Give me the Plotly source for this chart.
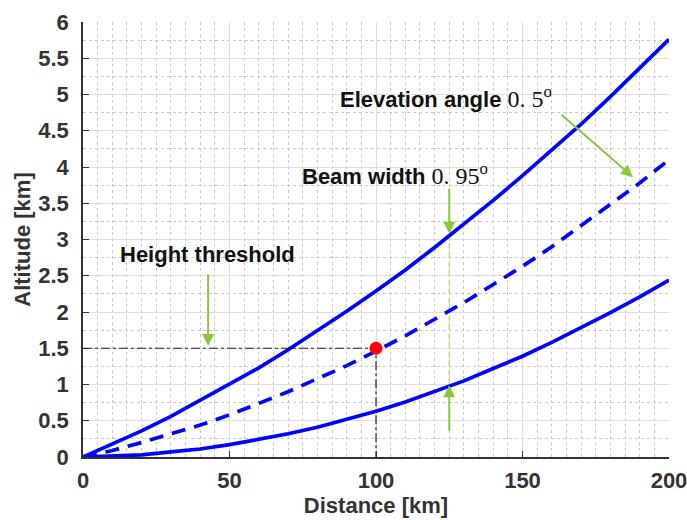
import plotly.graph_objects as go

# Distances [km]
distance = [0, 10, 20, 30, 40, 50, 60, 70, 80, 90, 100,
            110, 120, 130, 140, 150, 160, 170, 180, 190, 200]
# Upper beam edge (solid)
upper = [0.0, 0.18, 0.36, 0.56, 0.78, 1.0, 1.23, 1.48, 1.74, 2.01, 2.29,
         2.58, 2.89, 3.21, 3.54, 3.88, 4.23, 4.59, 4.97, 5.36, 5.76]
# Beam centre, elevation angle 0.5 deg (dashed)
center = [0.0, 0.09, 0.2, 0.32, 0.44, 0.58, 0.74, 0.9, 1.08, 1.26, 1.46,
          1.67, 1.9, 2.13, 2.38, 2.63, 2.9, 3.19, 3.48, 3.78, 4.1]
# Lower beam edge (solid)
lower = [0.0, 0.01, 0.03, 0.07, 0.11, 0.17, 0.24, 0.32, 0.41, 0.52, 0.63,
         0.76, 0.9, 1.05, 1.22, 1.39, 1.58, 1.78, 1.99, 2.21, 2.44]

threshold_point = (100, 1.5)
x_ticks = [0, 50, 100, 150, 200]
y_ticks = [0, 0.5, 1, 1.5, 2, 2.5, 3, 3.5, 4, 4.5, 5, 5.5, 6]

BLUE = "#0000FF"
GREEN = "#8CC63F"
FONT = "Liberation Sans"
SERIF = "Liberation Serif"

fig = go.Figure()

# Threshold guide lines
fig.add_trace(go.Scatter(x=[0, threshold_point[0], threshold_point[0]],
                         y=[threshold_point[1], threshold_point[1], 0],
                         mode="lines", line=dict(color="#222222", width=1.2, dash="dashdot"),
                         hoverinfo="skip"))
# Light green dashed line between beam edges at 125 km
fig.add_trace(go.Scatter(x=[125, 125], y=[1.0, 3.05], mode="lines",
                         line=dict(color="#B9DC8E", width=1.5, dash="6px,3px"),
                         hoverinfo="skip"))

fig.add_trace(go.Scatter(x=distance, y=upper, mode="lines", line=dict(color=BLUE, width=3.7)))
fig.add_trace(go.Scatter(x=distance, y=center, mode="lines",
                         line=dict(color=BLUE, width=3.7, dash="14px,9px")))
fig.add_trace(go.Scatter(x=distance, y=lower, mode="lines", line=dict(color=BLUE, width=3.7)))

fig.add_trace(go.Scatter(x=[threshold_point[0]], y=[threshold_point[1]], mode="markers",
                         marker=dict(color="#FF0000", size=13, line=dict(width=0))))

def arrow(x, y, ax, ay):
    fig.add_annotation(x=x, y=y, ax=ax, ay=ay, xref="x", yref="y", axref="x", ayref="y",
                       text="", showarrow=True, arrowhead=2, arrowsize=1.2,
                       arrowwidth=2, arrowcolor=GREEN)

arrow(187.7, 3.86, 162.8, 4.74)
arrow(125, 3.08, 125, 3.72)
arrow(125, 0.99, 125, 0.34)
arrow(42.7, 1.53, 42.7, 2.54)

def label(x, y, main, num):
    fig.add_annotation(x=x, y=y, xref="x", yref="y", xanchor="left", yanchor="middle",
                       showarrow=False,
                       text=f"<b>{main}</b>" + (f" <span style='font-family:{SERIF};font-size:24px'>{num}<sup>o</sup></span>" if num else ""),
                       font=dict(family=FONT, size=22, color="#111111"))

label(87.0, 4.97, "Elevation angle", "0. 5")
label(74.0, 3.9, "Beam width", "0. 95")
label(12.0, 2.79, "Height threshold", "")

axis_common = dict(
    showline=True, linecolor="#333333", linewidth=1.5,
    ticks="inside", ticklen=6, tickcolor="#333333",
    showgrid=True, gridcolor="#DDDDDD", gridwidth=1,
    zeroline=False, automargin=False, ticklabeloverflow="allow",
    tickfont=dict(family=FONT, size=22, color="#333333", weight="bold"),
    title_font=dict(family=FONT, size=22, color="#333333", weight="bold"),
)

fig.update_xaxes(range=[0, 200], tickvals=x_ticks, ticktext=[str(v) for v in x_ticks],
                 title_text="Distance [km]", title_standoff=4, ticklabelstandoff=3,
                 minor=dict(dtick=5, tick0=0, showgrid=True, gridcolor="#C8C8C8", griddash="dot", gridwidth=1),
                 **axis_common)
fig.update_yaxes(range=[0, 6], tickvals=y_ticks, ticktext=[f"{v:g}" for v in y_ticks],
                 title_text="Altitude [km]", title_standoff=2, ticklabelstandoff=8,
                 minor=dict(dtick=0.25, tick0=0, showgrid=True, gridcolor="#C8C8C8", griddash="dot", gridwidth=1),
                 **axis_common)

fig.update_layout(width=687, height=520, margin=dict(l=83, r=18, t=22, b=63),
                  paper_bgcolor="white", plot_bgcolor="white", showlegend=False)

# Remove the default page margin so the figure fills the window exactly; hide the modebar.
fig.write_html("out.html", config={"displayModeBar": False},
               post_script="document.body.style.margin='0';")
